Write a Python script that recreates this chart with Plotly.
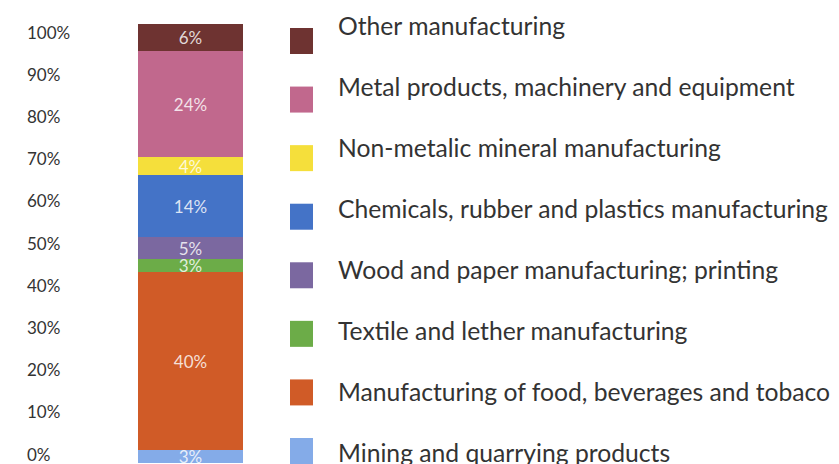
import plotly.graph_objects as go

# Data (bottom to top of stack)
categories = [
    "Mining and quarrying products",
    "Manufacturing of food, beverages and tobaco",
    "Textile and lether manufacturing",
    "Wood and paper manufacturing; printing",
    "Chemicals, rubber and plastics manufacturing",
    "Non-metalic mineral manufacturing",
    "Metal products, machinery and equipment",
    "Other manufacturing",
]
values = [3, 40, 3, 5, 14, 4, 24, 6]
colors = ["#84ABE8", "#D05B27", "#6CAC48", "#7B68A0", "#4473C7", "#F5DF3B", "#C1688D", "#6E3331"]
tick_values = [0, 10, 20, 30, 40, 50, 60, 70, 80, 90, 100]
tick_labels = [f"{v}%" for v in tick_values]

W, H = 839, 464
FONT = "Lato, 'Open Sans', sans-serif"
TEXT = "#333333"

fig = go.Figure()
for cat, val, col in zip(categories, values, colors):
    fig.add_trace(go.Bar(
        x=[0], y=[val], name=cat, marker=dict(color=col, line=dict(width=0)),
        width=1, yaxis="y2",
        text=[f"{val}%"], textposition="inside", insidetextanchor="middle",
        textfont=dict(color="rgba(255,255,255,0.82)", size=17, family=FONT),
        showlegend=False, hoverinfo="name+y",
    ))

# y-axis tick labels (left-aligned), positioned on the y axis scale
for v, lab in zip(tick_values, tick_labels):
    fig.add_annotation(xref="paper", yref="y", x=25 / W, y=v, text=lab, showarrow=False,
                       xanchor="left", yanchor="middle",
                       font=dict(size=17, color=TEXT, family=FONT))

# custom legend: squares + labels (top to bottom)
for i, (cat, col) in enumerate(zip(categories[::-1], colors[::-1])):
    cy = 41 + i * 58.57
    ty = 26 + i * 60.86
    fig.add_shape(type="rect", xref="paper", yref="paper",
                  x0=290 / W, x1=313 / W, y0=1 - (cy - 13) / H, y1=1 - (cy + 13) / H,
                  fillcolor=col, line=dict(width=0))
    fig.add_annotation(xref="paper", yref="paper", x=336 / W, y=1 - ty / H,
                       text=cat, showarrow=False, xanchor="left", yanchor="middle",
                       font=dict(size=24.7, color=TEXT, family=FONT))

fig.update_layout(
    width=W, height=H, margin=dict(l=0, r=0, t=0, b=0),
    paper_bgcolor="white", plot_bgcolor="white",
    barmode="stack", bargap=0,
    uniformtext=dict(minsize=17, mode="show"),
    xaxis=dict(range=[-190.5 / 105, -190.5 / 105 + W / 105], visible=False, domain=[0, 1]),
    yaxis=dict(range=[-10 / 4.22, 100 + 32 / 4.22], showticklabels=False, showgrid=False,
               zeroline=False, showline=False, ticks=""),
    yaxis2=dict(range=[-1 / 4.434, 463 / 4.434], overlaying="y", visible=False, showgrid=False),
)

fig.write_html("out.html")
